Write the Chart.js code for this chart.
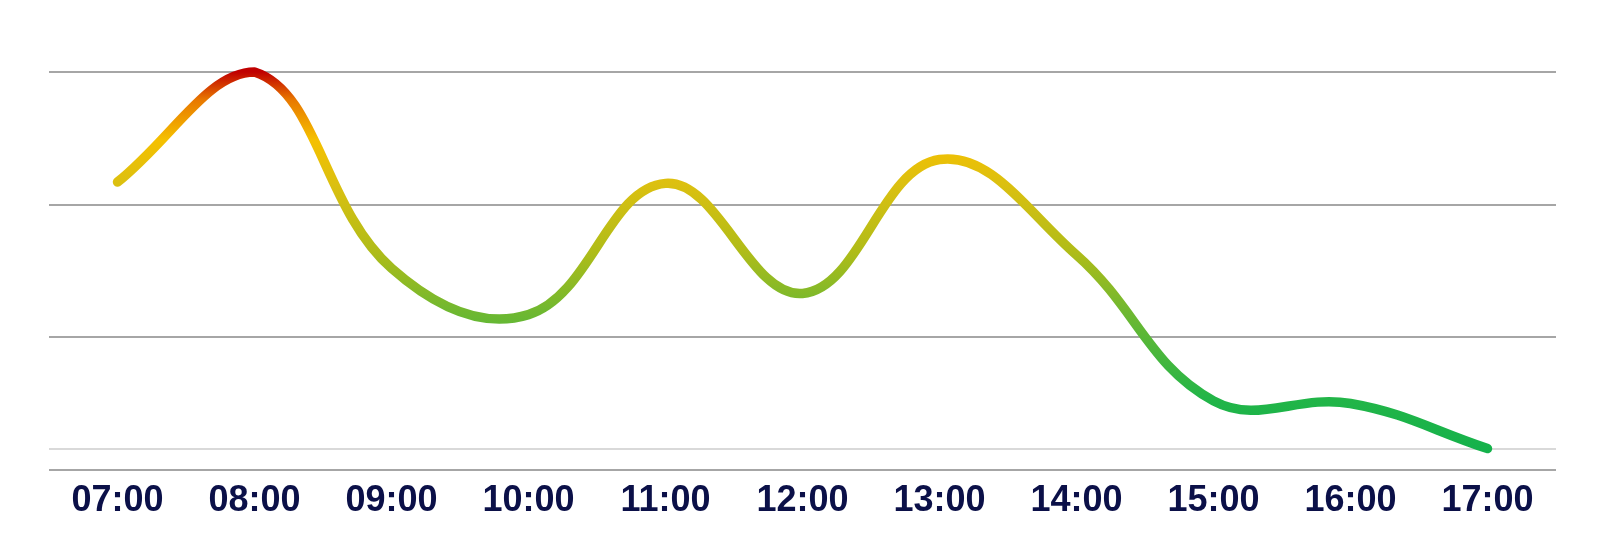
<!DOCTYPE html>
<html>
<head>
<meta charset="utf-8">
<script src="https://cdn.jsdelivr.net/npm/chart.js@4"></script>
<style>
      html, body { margin: 0; padding: 0; background: #ffffff; }
      #wrap { width: 1607px; height: 553px; }
</style>
</head>
<body>
<div id="wrap"><canvas id="hourly-chart"></canvas></div>
<script>
// ---------------------- DATA -------------------------
const hours = ['07:00','08:00','09:00','10:00','11:00','12:00','13:00','14:00','15:00','16:00','17:00'];
const hourlyValues = [21.7, 30.0, 15.2, 11.7, 21.6, 13.3, 23.4, 16.2, 5.2, 5.0, 1.6];
const yTicks = [0, 10, 20, 30];
const baselineValue = 1.6;

// ---------------------- HELPERS -------------------------
function lineGradient(context) {
      const chart = context.chart;
      const area = chart.chartArea;
      if (!area) return '#22b548';
      const g = chart.ctx.createLinearGradient(0, area.top, 0, area.bottom);
      g.addColorStop(0.00, '#c00000');
      g.addColorStop(0.07, '#e87800');
      g.addColorStop(0.17, '#f5c000');
      g.addColorStop(0.28, '#dcc010');
      g.addColorStop(0.45, '#b0bc18');
      g.addColorStop(0.60, '#70b830');
      g.addColorStop(0.82, '#22b548');
      g.addColorStop(1.00, '#10b04c');
      return g;
}

const ctx = document.getElementById('hourly-chart').getContext('2d');

const hourlyChart = new Chart(ctx, {
      type: 'line',
      data: {
            labels: hours,
            datasets: [
            {
                  data: hourlyValues,
                  borderColor: lineGradient,
                  borderWidth: 9.5,
                  borderCapStyle: 'round',
                  borderJoinStyle: 'round',
                  fill: false,
                  tension: 0.4,
                  pointRadius: 0,
                  clip: false
            }
            ]
      },
      options: {
            responsive: true,
            maintainAspectRatio: false,
            animation: false,
            layout: { padding: { left: 49, right: 51, top: 72, bottom: 20 } },
            scales: {
                  y: {
                        min: yTicks[0],
                        max: yTicks[yTicks.length - 1],
                        afterBuildTicks: (scale) => {
                              scale.ticks = yTicks.concat([baselineValue])
                                    .sort((a, b) => a - b)
                                    .map(v => ({ value: v }));
                        },
                        ticks: { display: false },
                        border: { display: false },
                        grid: {
                              drawTicks: false,
                              lineWidth: 2,
                              color: (c) => c.tick && c.tick.value === baselineValue ? '#d9d9d9' : '#a6a6a6'
                        }
                  },
                  x: {
                        offset: true,
                        border: { display: false },
                        grid: { display: false, drawTicks: false },
                        ticks: {
                              padding: 10,
                              color: '#0b1048',
                              font: { family: '"Liberation Sans", Arial, sans-serif', size: 36, weight: 'bold' }
                        }
                  }
            },
            plugins: {
                  legend: { display: false },
                  tooltip: { enabled: false }
            }
      }
});
</script>
</body>
</html>
